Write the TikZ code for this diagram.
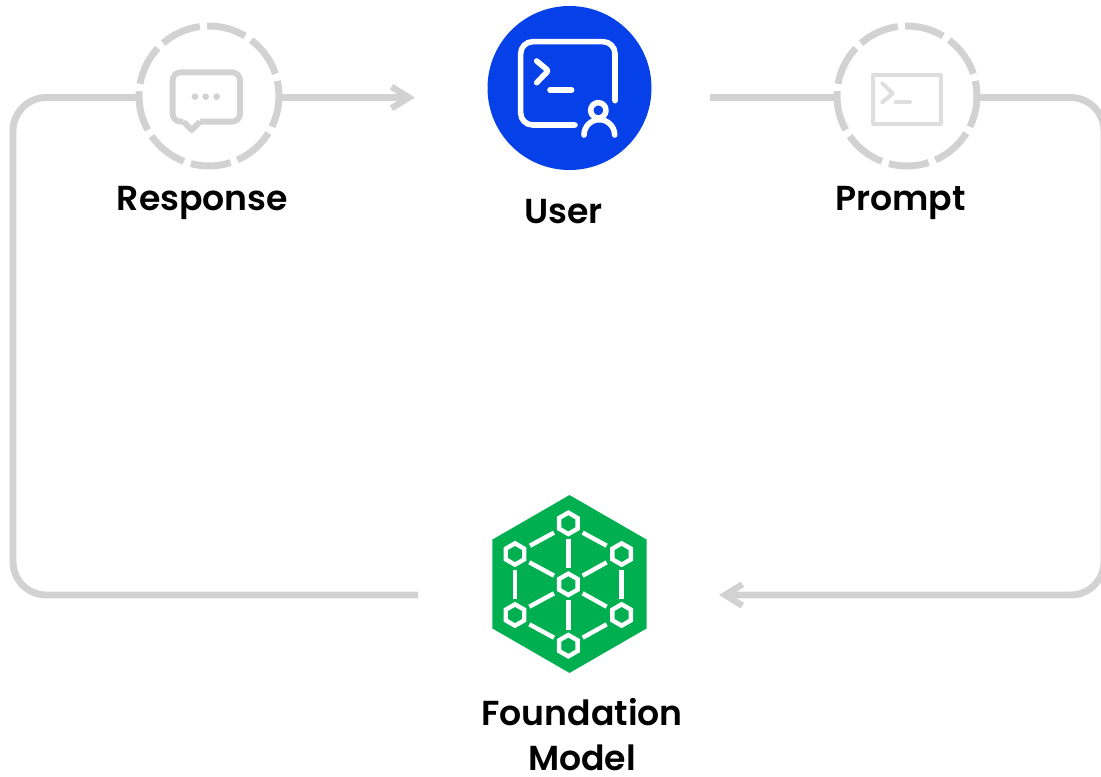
\documentclass[tikz,border=0pt]{standalone}
\usepackage{fontspec}
\setmainfont{Poppins SemiBold}
\usetikzlibrary{arrows.meta,shapes.geometric}
\definecolor{linegray}{HTML}{D2D2D2}
\definecolor{iconlight}{HTML}{DEDEDE}
\definecolor{userblue}{HTML}{0540E8}
\definecolor{fmgreen}{HTML}{00AF50}
\tikzset{
  px/.style={x=0.75pt,y=-0.75pt},
  zoomed/.style={x=0.25pt,y=-0.25pt},
  wire/.style={draw=linegray,line width=5.2pt},
  tipped/.style={wire,-{Straight Barb[length=13pt,width=16pt,line width=4.8pt]}},
  hub/.style={circle,minimum size=105pt,inner sep=0pt},
  glyph/.style={draw=white,line width=4.2pt,line cap=round,line join=round},
  hexglyph/.style={draw=white,line width=3.3pt,line join=miter},
  chatglyph/.style={draw=linegray,line width=4.4pt,line join=round},
  termglyph/.style={draw=iconlight,line width=3pt,line cap=round,line join=round},
  caption/.style={font=\fontsize{26}{26}\selectfont,text=black,anchor=base,inner sep=0pt},
}
\newcommand{\ringsegments}[1]{%
  \foreach \a/\b in {91.5/59,53/18.5,12.5/-26,-32/-66,-72/-105,-111/-145,-151/-184,-190/-223,-229/-262.5}{
    \draw[wire] (#1) ++(-\a:70) arc[start angle=-\a,end angle=-\b,radius=70];
  }}
\begin{document}
\begin{tikzpicture}[px]
\useasboundingbox (0,0) rectangle (1101,776);
\clip (0,0) rectangle (1101,776);
% nodes
\node[hub] (resp) at (209,96) {};
\node[hub] (prompt) at (907,96) {};
\node[circle,fill=userblue,minimum size=123pt,inner sep=0pt] (user) at (569.5,88) {};
\node[regular polygon,regular polygon sides=6,shape border rotate=30,fill=fmgreen,minimum size=133.4pt,inner sep=0pt] (fm) at (569.5,584) {};
% free ends
\coordinate (respin) at (139,97.5);
\coordinate (respout) at (279,97.5);
\coordinate (userin) at (415,97.5);
\coordinate (userout) at (710,97.5);
\coordinate (promptin) at (837,97.5);
\coordinate (promptout) at (977,97.5);
\coordinate (fmout) at (418,595);
\coordinate (fmin) at (719,595);
% connectors
\draw[wire,rounded corners=25pt] (respin) -- (13,97.5) -- (13,595) -- (fmout);
\draw[tipped] (respout) -- (userin);
\draw[wire] (userout) -- (promptin);
\draw[tipped,rounded corners=25pt] (promptout) -- (1104,97.5) -- (1104,595) -- (fmin);
% rings
\ringsegments{resp}
\ringsegments{prompt}
% response icon
\begin{scope}[shift={(125,15)},zoomed]
  \draw[chatglyph,rounded corners=6pt] (175,320) -- (143,320) -- (143,172) -- (345,172) -- (345,320) -- (225,320);
  \draw[chatglyph] (175,320) -- (200,345) -- (225,320);
  \foreach \dx in {210,242,275}{\fill[linegray] (\dx,245) circle[radius=10];}
\end{scope}
% prompt icon
\begin{scope}[shift={(825,15)},zoomed]
  \draw[termglyph] (145,180) rectangle (347,327);
  \draw[termglyph] (172,205) -- (203,235) -- (172,262);
  \draw[termglyph] (212,260) -- (255,260);
\end{scope}
% user icon
\begin{scope}[shift={(480,0)},zoomed]
  \draw[glyph,rounded corners=9pt] (285,375) -- (122,375) -- (122,125) -- (405,125) -- (405,302);
  \draw[glyph,rounded corners=1.5pt] (170,183) -- (205,212) -- (170,248);
  \draw[glyph] (210,270) -- (275,270);
  \draw[glyph] (355,331) circle[radius=23];
  \draw[glyph] (312,405) arc[start angle=-180,end angle=0,radius=46];
\end{scope}
% foundation model icon
\begin{scope}[shift={(480,485)},zoomed]
  \foreach \hx/\hy in {265/115,105/207,425/207,265/298,105/390,425/390,265/482}{
    \draw[hexglyph] (\hx,\hy) ++(90:32) -- ++(-30:32) -- ++(-90:32) -- ++(-150:32) -- ++(150:32) -- ++(90:32) -- cycle;
  }
  \foreach \ax/\ay/\bx/\by in {150/182/222/143,308/143/380/182,105/255/105/342,425/255/425/342,265/163/265/250,148/232/222/272,380/232/308/272,222/325/148/365,308/325/380/365,265/345/265/435,148/418/222/458,380/418/308/458}{
    \draw[hexglyph] (\ax,\ay) -- (\bx,\by);
  }
\end{scope}
% captions
\node[caption] (tresp) at (202.5,210) {Response};
\node[caption] (tuser) at (563.5,223) {User};
\node[caption] (tprompt) at (900.5,210) {Prompt};
\node[caption] (tfm1) at (582,725) {Foundation};
\node[caption] (tfm2) at (582,770) {Model};
\end{tikzpicture}
\end{document}
